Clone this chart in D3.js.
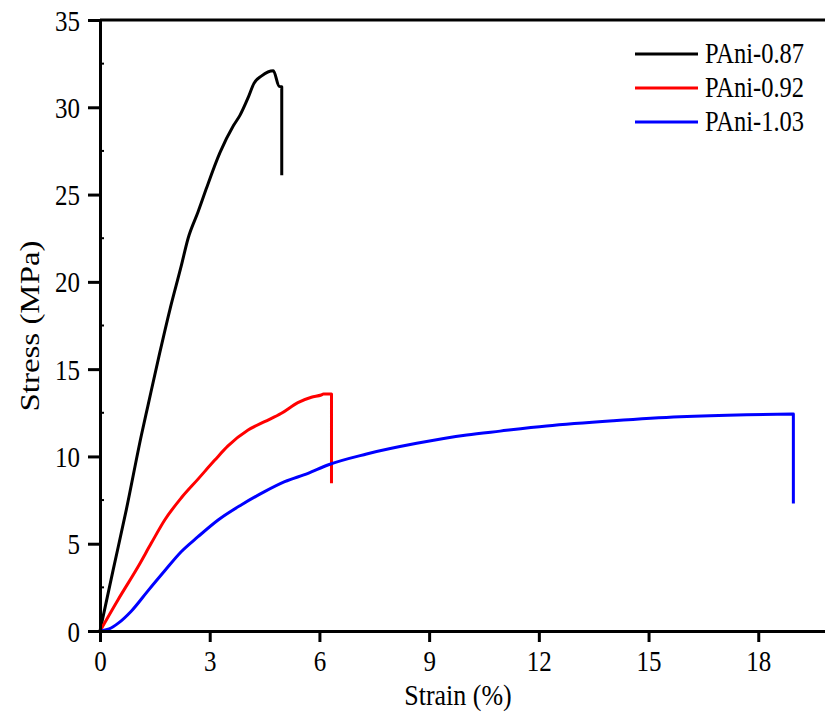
<!DOCTYPE html>
<html>
<head>
<meta charset="utf-8">
<script src="https://cdn.jsdelivr.net/npm/d3@7"></script>
<style>
  html, body { margin: 0; padding: 0; background: #fff; }
  svg { display: block; }
  text { font-family: "Liberation Serif", "Times New Roman", serif; fill: #000; }
</style>
</head>
<body>
<svg id="chart" width="825" height="719"></svg>
<script>
// Tensile stress–strain curves for three PAni samples (strain in %, stress in MPa)
const seriesNames = ["PAni-0.87", "PAni-0.92", "PAni-1.03"];
const seriesColors = ["#000000", "#ff0000", "#0000ff"];

const strain087 = [0, 0.36, 0.72, 1.13, 1.31, 1.63, 1.91, 2.22, 2.41, 2.68, 2.90, 3.28, 3.65, 3.83, 4.05, 4.21, 4.42, 4.74, 4.90, 4.97, 4.97];
const stress087 = [0, 3.50, 6.95, 11.20, 12.90, 15.90, 18.40, 20.90, 22.50, 24.00, 25.30, 27.40, 28.95, 29.55, 30.55, 31.37, 31.80, 32.09, 31.20, 31.18, 26.10];

const strain092 = [0, 0.49, 1.04, 1.40, 1.77, 2.22, 2.68, 3.14, 3.50, 4.05, 4.50, 4.96, 5.41, 5.78, 6.05, 6.11, 6.33, 6.33];
const stress092 = [0, 1.78, 3.68, 5.02, 6.36, 7.62, 8.70, 9.79, 10.60, 11.51, 11.99, 12.47, 13.08, 13.39, 13.52, 13.57, 13.57, 8.46];

const strain103 = [0, 0.25, 0.50, 0.86, 1.31, 1.77, 2.22, 2.68, 3.23, 3.86, 4.50, 5.05, 5.69, 6.23, 7.29, 8.66, 10.03, 10.94, 12.21, 14.04, 15.86, 17.68, 18.96, 18.96];
const stress103 = [0, 0.12, 0.45, 1.15, 2.30, 3.45, 4.54, 5.40, 6.36, 7.22, 7.98, 8.55, 9.03, 9.51, 10.14, 10.75, 11.23, 11.45, 11.74, 12.04, 12.27, 12.39, 12.43, 7.31];

const xTicks = [0, 3, 6, 9, 12, 15, 18];
const yTicks = [0, 5, 10, 15, 20, 25, 30, 35];
const yMinorTicks = [2.5, 7.5, 12.5, 17.5, 22.5, 27.5, 32.5];

const xTitle = "Strain (%)";
const yTitle = "Stress (MPa)";

// Build series from the arrays above
const zipSeries = (xs, ys) => xs.map((x, i) => ({ x, y: ys[i] }));
const series = [
  zipSeries(strain087, stress087),
  zipSeries(strain092, stress092),
  zipSeries(strain103, stress103)
];

const svg = d3.select("#chart");
const stretch = 1.18; // vertical stretch applied to text glyphs

const x = d3.scaleLinear().domain([0, 20]).range([100, 831.4]);
const y = d3.scaleLinear().domain([0, 35]).range([631, 20]);

// Each curve: smooth loading part, then a straight vertical drop at fracture
const smooth = d3.line()
  .x(d => x(d.x))
  .y(d => y(d.y))
  .curve(d3.curveMonotoneX);
const curvePath = d => {
  const last = d[d.length - 1];
  return smooth(d.slice(0, -1)) + `L${x(last.x)},${y(last.y)}`;
};
svg.append("g")
  .selectAll("path")
  .data(series)
  .join("path")
  .attr("d", curvePath)
  .attr("fill", "none")
  .attr("stroke", (d, i) => seriesColors[i])
  .attr("stroke-width", 3)
  .attr("stroke-linejoin", "round");

// Top frame line
svg.append("line")
  .attr("x1", x(0)).attr("x2", x(20))
  .attr("y1", y(35)).attr("y2", y(35))
  .attr("stroke", "#000").attr("stroke-width", 3);

// Minor y ticks, pointing inward
svg.append("g")
  .selectAll("line")
  .data(yMinorTicks)
  .join("line")
  .attr("x1", x(0)).attr("x2", x(0) + 4)
  .attr("y1", d => y(d)).attr("y2", d => y(d))
  .attr("stroke", "#000").attr("stroke-width", 2);

// Bottom axis
const xAxis = svg.append("g")
  .attr("transform", `translate(0,${y(0)})`)
  .call(d3.axisBottom(x).tickValues(xTicks).tickSize(11).tickSizeOuter(0).tickFormat(d3.format("d")));
xAxis.select(".domain").attr("stroke-width", 3);
xAxis.selectAll(".tick line").attr("stroke-width", 3);
xAxis.selectAll(".tick text")
  .attr("font-family", "Liberation Serif")
  .attr("font-size", 25)
  .attr("y", 40 / stretch)
  .attr("dy", 0)
  .attr("transform", `scale(1,${stretch})`);

// Left axis
const yAxis = svg.append("g")
  .attr("transform", `translate(${x(0)},0)`)
  .call(d3.axisLeft(y).tickValues(yTicks).tickSize(12).tickSizeOuter(0).tickPadding(8).tickFormat(d3.format("d")));
yAxis.select(".domain").attr("stroke-width", 3);
yAxis.selectAll(".tick line").attr("stroke-width", 3);
yAxis.selectAll(".tick text")
  .attr("font-family", "Liberation Serif")
  .attr("font-size", 25)
  .attr("dy", "0.34em")
  .attr("transform", `scale(1,${stretch})`);

// Axis titles
svg.append("text")
  .attr("transform", "translate(458,705) scale(1,1.15)")
  .attr("text-anchor", "middle")
  .attr("font-size", 26)
  .text(xTitle);

svg.append("text")
  .attr("transform", `translate(39,326) rotate(-90) scale(1.22,1)`)
  .attr("text-anchor", "middle")
  .attr("font-size", 27)
  .text(yTitle);

// Legend
const legendY = [54, 88, 122];
const legend = svg.append("g");
seriesNames.forEach((name, i) => {
  legend.append("line")
    .attr("x1", 635).attr("x2", 698)
    .attr("y1", legendY[i]).attr("y2", legendY[i])
    .attr("stroke", seriesColors[i]).attr("stroke-width", 3);
  legend.append("text")
    .attr("transform", `translate(705,${legendY[i] + 9}) scale(1,${stretch})`)
    .attr("font-size", 24.5)
    .text(name);
});
</script>
</body>
</html>
